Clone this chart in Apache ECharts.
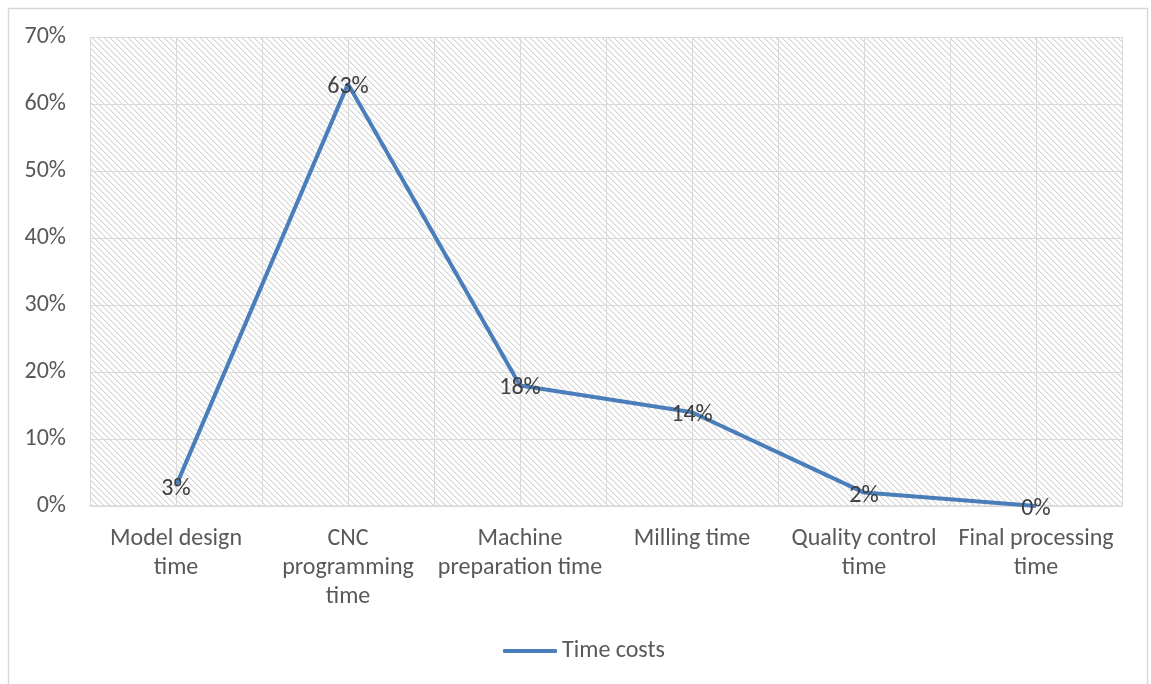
<!DOCTYPE html>
<html>
<head>
<meta charset="utf-8">
<script src="https://cdn.jsdelivr.net/npm/echarts@6/dist/echarts.min.js"></script>
<style>
  html, body { margin: 0; padding: 0; background: #ffffff; }
  #chart { width: 1151px; height: 684px; }
</style>
</head>
<body>
<div id="chart"></div>
<script>
// Share of total time spent on each production stage
const categories = [
  'Model design\ntime',
  'CNC\nprogramming\ntime',
  'Machine\npreparation time',
  'Milling time',
  'Quality control\ntime',
  'Final processing\ntime'
];
const timeCosts = [0.03, 0.63, 0.18, 0.14, 0.02, 0.00];
const seriesName = 'Time costs';
const yTicks = { min: 0, max: 0.7, interval: 0.1 };

const FONT = 'Carlito, Calibri, Lato, sans-serif';
const BLUE = '#4a7ebb';
const GRID_GREY = '#d9d9d9';

// Light diagonal hatch used as the plot-area fill
function hatchCanvas() {
  const size = 6;
  const c = document.createElement('canvas');
  c.width = size; c.height = size;
  const ctx = c.getContext('2d');
  ctx.fillStyle = '#ffffff';
  ctx.fillRect(0, 0, size, size);
  for (let i = 0; i < size; i++) {
    ctx.fillStyle = '#d6d6d6';
    ctx.fillRect(i, i, 1, 1);
    ctx.fillStyle = '#ececec';
    ctx.fillRect((i + 1) % size, i, 1, 1);
  }
  return c;
}

const chart = echarts.init(document.getElementById('chart'), null, { renderer: 'canvas' });

chart.setOption({
  backgroundColor: '#ffffff',
  animation: false,
  textStyle: { fontFamily: FONT },
  graphic: [{
    type: 'rect',
    shape: { x: 8.5, y: 8.5, width: 1139, height: 690 },
    style: { fill: 'none', stroke: GRID_GREY, lineWidth: 1.5 },
    silent: true,
    z: -1
  }],
  grid: {
    left: 90, right: 29, top: 37, bottom: 178,
    show: true,
    borderWidth: 0,
    backgroundColor: { image: hatchCanvas(), repeat: 'repeat' }
  },
  legend: {
    bottom: 16,
    left: 498,
    data: [{ name: seriesName, icon: 'roundRect' }],
    itemWidth: 54,
    itemHeight: 4,
    itemGap: 6,
    textStyle: { fontFamily: FONT, fontSize: 24, color: '#595959' }
  },
  xAxis: [{
    type: 'category',
    data: categories,
    boundaryGap: true,
    axisLine: { show: true, lineStyle: { color: GRID_GREY, width: 1.5 } },
    axisTick: { show: false },
    axisLabel: {
      interval: 0,
      margin: 18,
      fontFamily: FONT,
      fontSize: 24,
      lineHeight: 29,
      color: '#595959'
    },
    splitLine: { show: false }
  }, {
    // half-category vertical gridlines
    type: 'value',
    min: 0, max: 12, interval: 1,
    position: 'bottom',
    axisLine: { show: false },
    axisTick: { show: false },
    axisLabel: { show: false },
    splitLine: { show: true, lineStyle: { color: GRID_GREY, width: 1 } }
  }],
  yAxis: {
    type: 'value',
    min: yTicks.min, max: yTicks.max, interval: yTicks.interval,
    axisLine: { show: false },
    axisTick: { show: false },
    axisLabel: {
      margin: 24,
      fontFamily: FONT,
      fontSize: 24,
      color: '#595959',
      formatter: v => Math.round(v * 100) + '%'
    },
    splitLine: { show: true, lineStyle: { color: GRID_GREY, width: 1 } }
  },
  series: [{
    name: seriesName,
    type: 'line',
    xAxisIndex: 0,
    data: timeCosts,
    symbol: 'circle',
    symbolSize: 1,
    showSymbol: true,
    itemStyle: { color: BLUE },
    lineStyle: { color: BLUE, width: 4 },
    label: {
      show: true,
      position: 'inside',
      offset: [0, 3],
      fontFamily: FONT,
      fontSize: 24,
      color: '#404040',
      formatter: p => Math.round(p.value * 100) + '%'
    },
    z: 3
  }]
});
</script>
</body>
</html>
